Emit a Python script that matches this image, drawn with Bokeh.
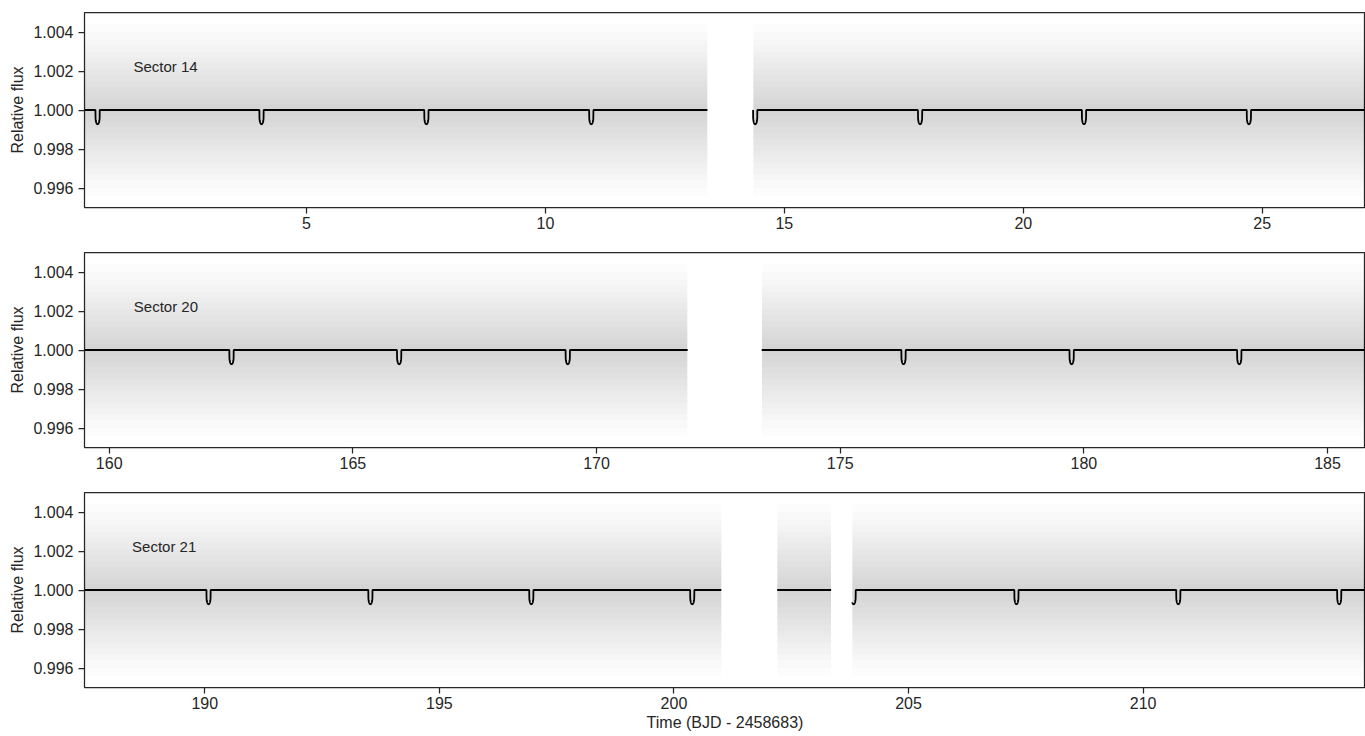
import numpy as np
from bokeh.plotting import figure
from bokeh.layouts import column
from bokeh.models import Range1d, FixedTicker, PrintfTickFormatter, Label
from bokeh.embed import file_html
from bokeh.resources import INLINE

# ---------------- data ----------------
sector_names = ["Sector 14", "Sector 20", "Sector 21"]

s14_range = [0.356, 27.16]
s20_range = [159.493, 185.78]
s21_range = [187.436, 214.74]

s14_segments = [[0.356, 13.39], [14.345, 27.16]]
s20_segments = [[159.493, 171.87], [173.39, 185.78]]
s21_segments = [[187.436, 201.01], [202.20, 203.35], [203.80, 214.74]]

s14_transits = [0.63, 4.06, 7.51, 10.96, 14.39, 17.84, 21.27, 24.72]
s20_transits = [162.51, 165.95, 169.41, 176.30, 179.75, 183.19]
s21_transits = [190.08, 193.53, 196.96, 200.39, 203.83, 207.30, 210.75, 214.18]

s14_ticks = [5, 10, 15, 20, 25]
s20_ticks = [160, 165, 170, 175, 180, 185]
s21_ticks = [190, 195, 200, 205, 210]

flux_ticks = [0.996, 0.998, 1.000, 1.002, 1.004]
flux_range = [0.995, 1.005]

transit_depth = 0.00073
transit_half_duration = 0.045

# envelope levels of the scatter of the flux points (half widths about 1.0)
scatter_half_widths = [0.0044, 0.0040, 0.0036, 0.0033, 0.0030, 0.0027, 0.0024,
                       0.0021, 0.0018, 0.0015, 0.0012, 0.0009, 0.0006, 0.0003]

label_x = [1.38, 160.505, 188.45]
label_y = 1.00225

x_title = "Time (BJD - 2458683)"
y_title = "Relative flux"

# ---------------- style ----------------
FONT = "Liberation Sans"
DARK = "#262626"
FS = "16px"


def model(x, transits):
    y = np.ones_like(x)
    for t in transits:
        u = (x - t) / transit_half_duration
        inside = np.abs(u) < 1
        y[inside] -= transit_depth * (1 - u[inside] ** 2) ** 0.25
    return y


def make_panel(rng, segments, transits, ticks, name, lx, height, bottom, xlabel):
    p = figure(width=1365, height=height, output_backend="svg", toolbar_location=None,
               x_range=Range1d(*rng), y_range=Range1d(*flux_range),
               min_border_left=84, min_border_right=0, min_border_top=12,
               min_border_bottom=bottom)
    p.grid.visible = False
    p.background_fill_color = "white"
    p.border_fill_color = "white"
    p.outline_line_color = DARK
    p.outline_line_width = 1.25

    # scatter envelope of the flux measurements
    for s0, s1 in segments:
        for h in scatter_half_widths:
            p.varea(x=[s0, s1], y1=[1 - h, 1 - h], y2=[1 + h, 1 + h],
                    fill_color="black", fill_alpha=0.0125)

    # transit model
    for s0, s1 in segments:
        xs = [s0, s1]
        for t in transits:
            xs.extend(list(t + transit_half_duration * np.linspace(-1, 1, 41)))
        xs = np.array(sorted(v for v in xs if s0 <= v <= s1))
        p.line(xs, model(xs, transits), line_color="black", line_width=1.8)

    p.add_layout(Label(x=lx, y=label_y, text=name, text_font=FONT,
                       text_font_size="15px", text_color=DARK,
                       text_baseline="alphabetic"))

    for ax in (p.xaxis[0], p.yaxis[0]):
        ax.axis_line_color = None
        ax.major_tick_line_color = DARK
        ax.major_tick_line_width = 1.25
        ax.major_tick_out = 6
        ax.major_tick_in = 0
        ax.minor_tick_line_color = None
        ax.major_label_text_font = FONT
        ax.major_label_text_font_size = FS
        ax.major_label_text_color = DARK
        ax.axis_label_text_font = FONT
        ax.axis_label_text_font_size = FS
        ax.axis_label_text_font_style = "normal"
        ax.axis_label_text_color = DARK

    p.xaxis.ticker = FixedTicker(ticks=ticks)
    p.xaxis.major_label_standoff = 3
    p.yaxis.ticker = FixedTicker(ticks=flux_ticks)
    p.yaxis.formatter = PrintfTickFormatter(format="%.3f")
    p.yaxis.major_label_standoff = 5
    p.yaxis.axis_label = y_title
    p.yaxis.axis_label_standoff = 4
    if xlabel:
        p.xaxis.axis_label = xlabel
        p.xaxis.axis_label_standoff = 2
    return p


p1 = make_panel(s14_range, s14_segments, s14_transits, s14_ticks, sector_names[0], label_x[0], 240, 33, None)
p2 = make_panel(s20_range, s20_segments, s20_transits, s20_ticks, sector_names[1], label_x[1], 240, 33, None)
p3 = make_panel(s21_range, s21_segments, s21_transits, s21_ticks, sector_names[2], label_x[2], 256, 49, x_title)

layout = column(p1, p2, p3, spacing=0)
open("out.html", "w").write(file_html(layout, INLINE))
